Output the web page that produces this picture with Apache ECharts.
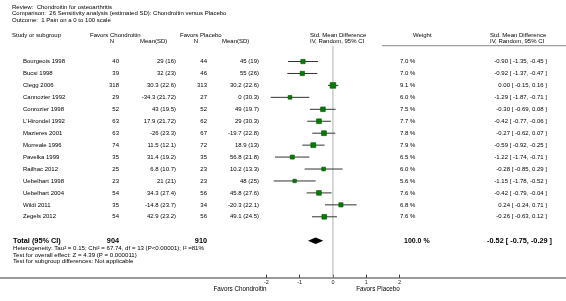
<!DOCTYPE html>
<html><head><meta charset="utf-8">
<script src="https://cdn.jsdelivr.net/npm/echarts@6/dist/echarts.min.js"></script>
<style>html,body{margin:0;padding:0;background:#fff}#c{width:566px;height:301px}</style>
</head><body><div id="c"></div>
<script>
const titleLines = ["Review:  Chondroitin for osteoarthritis","Comparison:  26 Sensitivity analysis (estimated SD): Chondroitin versus Placebo","Outcome:  1 Pain on a 0 to 100 scale"];
const studies = ["Bourgeois 1998","Bucsi 1998","Clegg 2006","Cannozier 1992","Conrozier 1998","L'Hirondel 1992","Mazieres 2001","Morreale 1996","Pavelka 1999","Railhac 2012","Uebelhart 1998","Uebelhart 2004","Wildi 2011","Zegels 2012"];
const chN = [40,39,318,29,52,63,63,74,35,25,23,54,35,54];
const chMeanSD = ["29 (16)","32 (23)","30.3 (22.6)","-34.3 (21.72)","43 (19.5)","17.9 (21.72)","-26 (23.3)","11.5 (12.1)","31.4 (19.2)","6.8 (10.7)","21 (21)","34.3 (27.4)","-14.8 (23.7)","42.9 (23.2)"];
const plN = [44,46,313,27,52,62,67,72,35,23,23,56,34,56];
const plMeanSD = ["45 (19)","55 (26)","30.2 (22.6)","0 (30.3)","49 (19.7)","29 (30.3)","-19.7 (22.8)","18.9 (13)","56.8 (21.8)","10.2 (13.3)","48 (25)","45.8 (27.6)","-20.3 (22.1)","49.1 (24.5)"];
const smd = [-0.90,-0.92,0.00,-1.29,-0.30,-0.42,-0.27,-0.59,-1.22,-0.28,-1.15,-0.42,0.24,-0.26];
const ciLow = [-1.35,-1.37,-0.15,-1.87,-0.69,-0.77,-0.62,-0.92,-1.74,-0.85,-1.78,-0.79,-0.24,-0.63];
const ciHigh = [-0.45,-0.47,0.16,-0.71,0.08,-0.06,0.07,-0.25,-0.71,0.29,-0.52,-0.04,0.71,0.12];
const weight = [7.0,7.0,9.1,6.0,7.5,7.7,7.8,7.9,6.5,6.0,5.6,7.6,6.8,7.6];
const totalLabel = "Total (95% CI)";
const totalN = [904, 910];
const totalSMD = [-0.52, -0.75, -0.29];
const totalWeight = "100.0 %";
const footerLines = ["Heterogeneity: Tau\u00b2 = 0.15; Chi\u00b2 = 67.74, df = 13 (P<0.00001); I\u00b2 =81%","Test for overall effect: Z = 4.39 (P = 0.000011)","Test for subgroup differences: Not applicable"];
const tickValues = [-2,-1,0,1,2];
const favorsLabels = ["Favors Chondroitin","Favors Placebo"];
const nullEffect = 0;

const TOTAL_ROW = 15;
const Y_MIN = -1.3, Y_MAX = 18.1;
const FONT = '"Liberation Sans", Arial, sans-serif';
const FS = 6;
const chart = echarts.init(document.getElementById('c'), null, {renderer:'canvas'});
const fmt = v => v.toFixed(2);

const rowData = studies.map((s,i)=>[smd[i], i, ciLow[i], ciHigh[i], weight[i]]);

chart.setOption({
  animation:false,
  grid:{left:0,right:0,top:46,bottom:23.3},
  xAxis:{type:'value',min:-10,max:7,position:'bottom',
    axisLine:{show:true,onZero:false,lineStyle:{color:'#9a9a9a',width:2}},
    axisTick:{show:true,inside:true,length:3,customValues:tickValues,lineStyle:{color:'#333',width:1}},
    axisLabel:{show:true,customValues:tickValues,fontSize:5.5,fontFamily:FONT,color:'#222',margin:2,
      formatter:v=>String(v)},
    splitLine:{show:false}},
  yAxis:{type:'value',inverse:true,min:Y_MIN,max:Y_MAX,show:false,axisLine:{onZero:false}},
  series:[
    {type:'line',data:[[nullEffect,Y_MIN],[nullEffect,Y_MAX]],symbol:'none',silent:true,
      lineStyle:{color:'#b0b0b0',width:1},z:1},
    {type:'custom',data:rowData,renderItem:(params,api)=>{
      const lo = api.coord([api.value(2), api.value(1)]);
      const hi = api.coord([api.value(3), api.value(1)]);
      const c = api.coord([api.value(0), api.value(1)]);
      const s = api.value(4)*0.62;
      return {type:'group',children:[
        {type:'line',shape:{x1:lo[0],y1:lo[1],x2:hi[0],y2:hi[1]},style:{stroke:'#333',lineWidth:1}},
        {type:'rect',shape:{x:c[0]-s/2,y:c[1]-s/2,width:s,height:s},style:{fill:'#008000',stroke:'#004d00',lineWidth:0.6}}
      ]};
    },z:5},
    {type:'custom',data:[[totalSMD[0],TOTAL_ROW,totalSMD[1],totalSMD[2]]],renderItem:(params,api)=>{
      const c = api.coord([api.value(0), api.value(1)]);
      const lo = api.coord([api.value(2), api.value(1)]);
      const hi = api.coord([api.value(3), api.value(1)]);
      const h = 3.2;
      return {type:'polygon',shape:{points:[[lo[0],c[1]],[c[0],c[1]-h],[hi[0],c[1]],[c[0],c[1]+h]]},style:{fill:'#000'}};
    },z:5}
  ]
});

function rowY(i){ return chart.convertToPixel({yAxisIndex:0}, i); }
function txt(text,x,y,align,bold,size){
  return {type:'text',x:x,y:y,silent:true,style:{text:text,font:(bold?'bold ':'')+(size||FS)+'px '+FONT,fill:'#000',
    align:align||'left',verticalAlign:'middle',textAlign:align||'left',textVerticalAlign:'middle'}};
}
const g = [];
g.push({type:'rect',silent:true,left:382,top:45,shape:{width:184,height:1.2},style:{fill:'#a0a0a0'}});
titleLines.forEach((t,i)=>g.push(txt(t,12,7+i*6.5,'left',false,6)));
g.push(txt("Study or subgroup",12,35,'left'));
g.push(txt("Favors Chondroitin",90,35,'left'));
g.push(txt("N",112,41,'center'));
g.push(txt("Mean(SD)",140,41,'left'));
g.push(txt("Favors Placebo",180,35,'left'));
g.push(txt("N",196,41,'center'));
g.push(txt("Mean(SD)",222,41,'left'));
g.push(txt("Std. Mean Difference",310,35,'left'));
g.push(txt("IV, Random, 95% CI",310,41,'left'));
g.push(txt("Weight",413,35,'left'));
g.push(txt("Std. Mean Difference",490,35,'left'));
g.push(txt("IV, Random, 95% CI",490,41,'left'));
studies.forEach((s,i)=>{
  const y = rowY(i);
  g.push(txt(s,23,y,'left'));
  g.push(txt(String(chN[i]),119,y,'right'));
  g.push(txt(chMeanSD[i],176,y,'right'));
  g.push(txt(String(plN[i]),207,y,'right'));
  g.push(txt(plMeanSD[i],259,y,'right'));
  g.push(txt(weight[i].toFixed(1)+' %',400,y,'left'));
  g.push(txt(fmt(smd[i])+' [ '+fmt(ciLow[i])+', '+fmt(ciHigh[i])+' ]',547,y,'right'));
});
const ty = rowY(TOTAL_ROW);
g.push(txt(totalLabel,13,ty,'left',true,7.3));
g.push(txt(String(totalN[0]),119,ty,'right',true,7.3));
g.push(txt(String(totalN[1]),207,ty,'right',true,7.3));
g.push(txt(totalWeight,404,ty,'left',true,7));
g.push(txt(fmt(totalSMD[0])+' [ '+fmt(totalSMD[1])+', '+fmt(totalSMD[2])+' ]',552,ty,'right',true,7.3));
footerLines.forEach((t,i)=>g.push(txt(t,13,248.5+i*6.5,'left',false,6.1)));
g.push(txt(favorsLabels[0],240,289,'center',false,6.3));
g.push(txt(favorsLabels[1],378,289,'center',false,6.3));
chart.setOption({graphic:{elements:g}});
</script></body></html>
